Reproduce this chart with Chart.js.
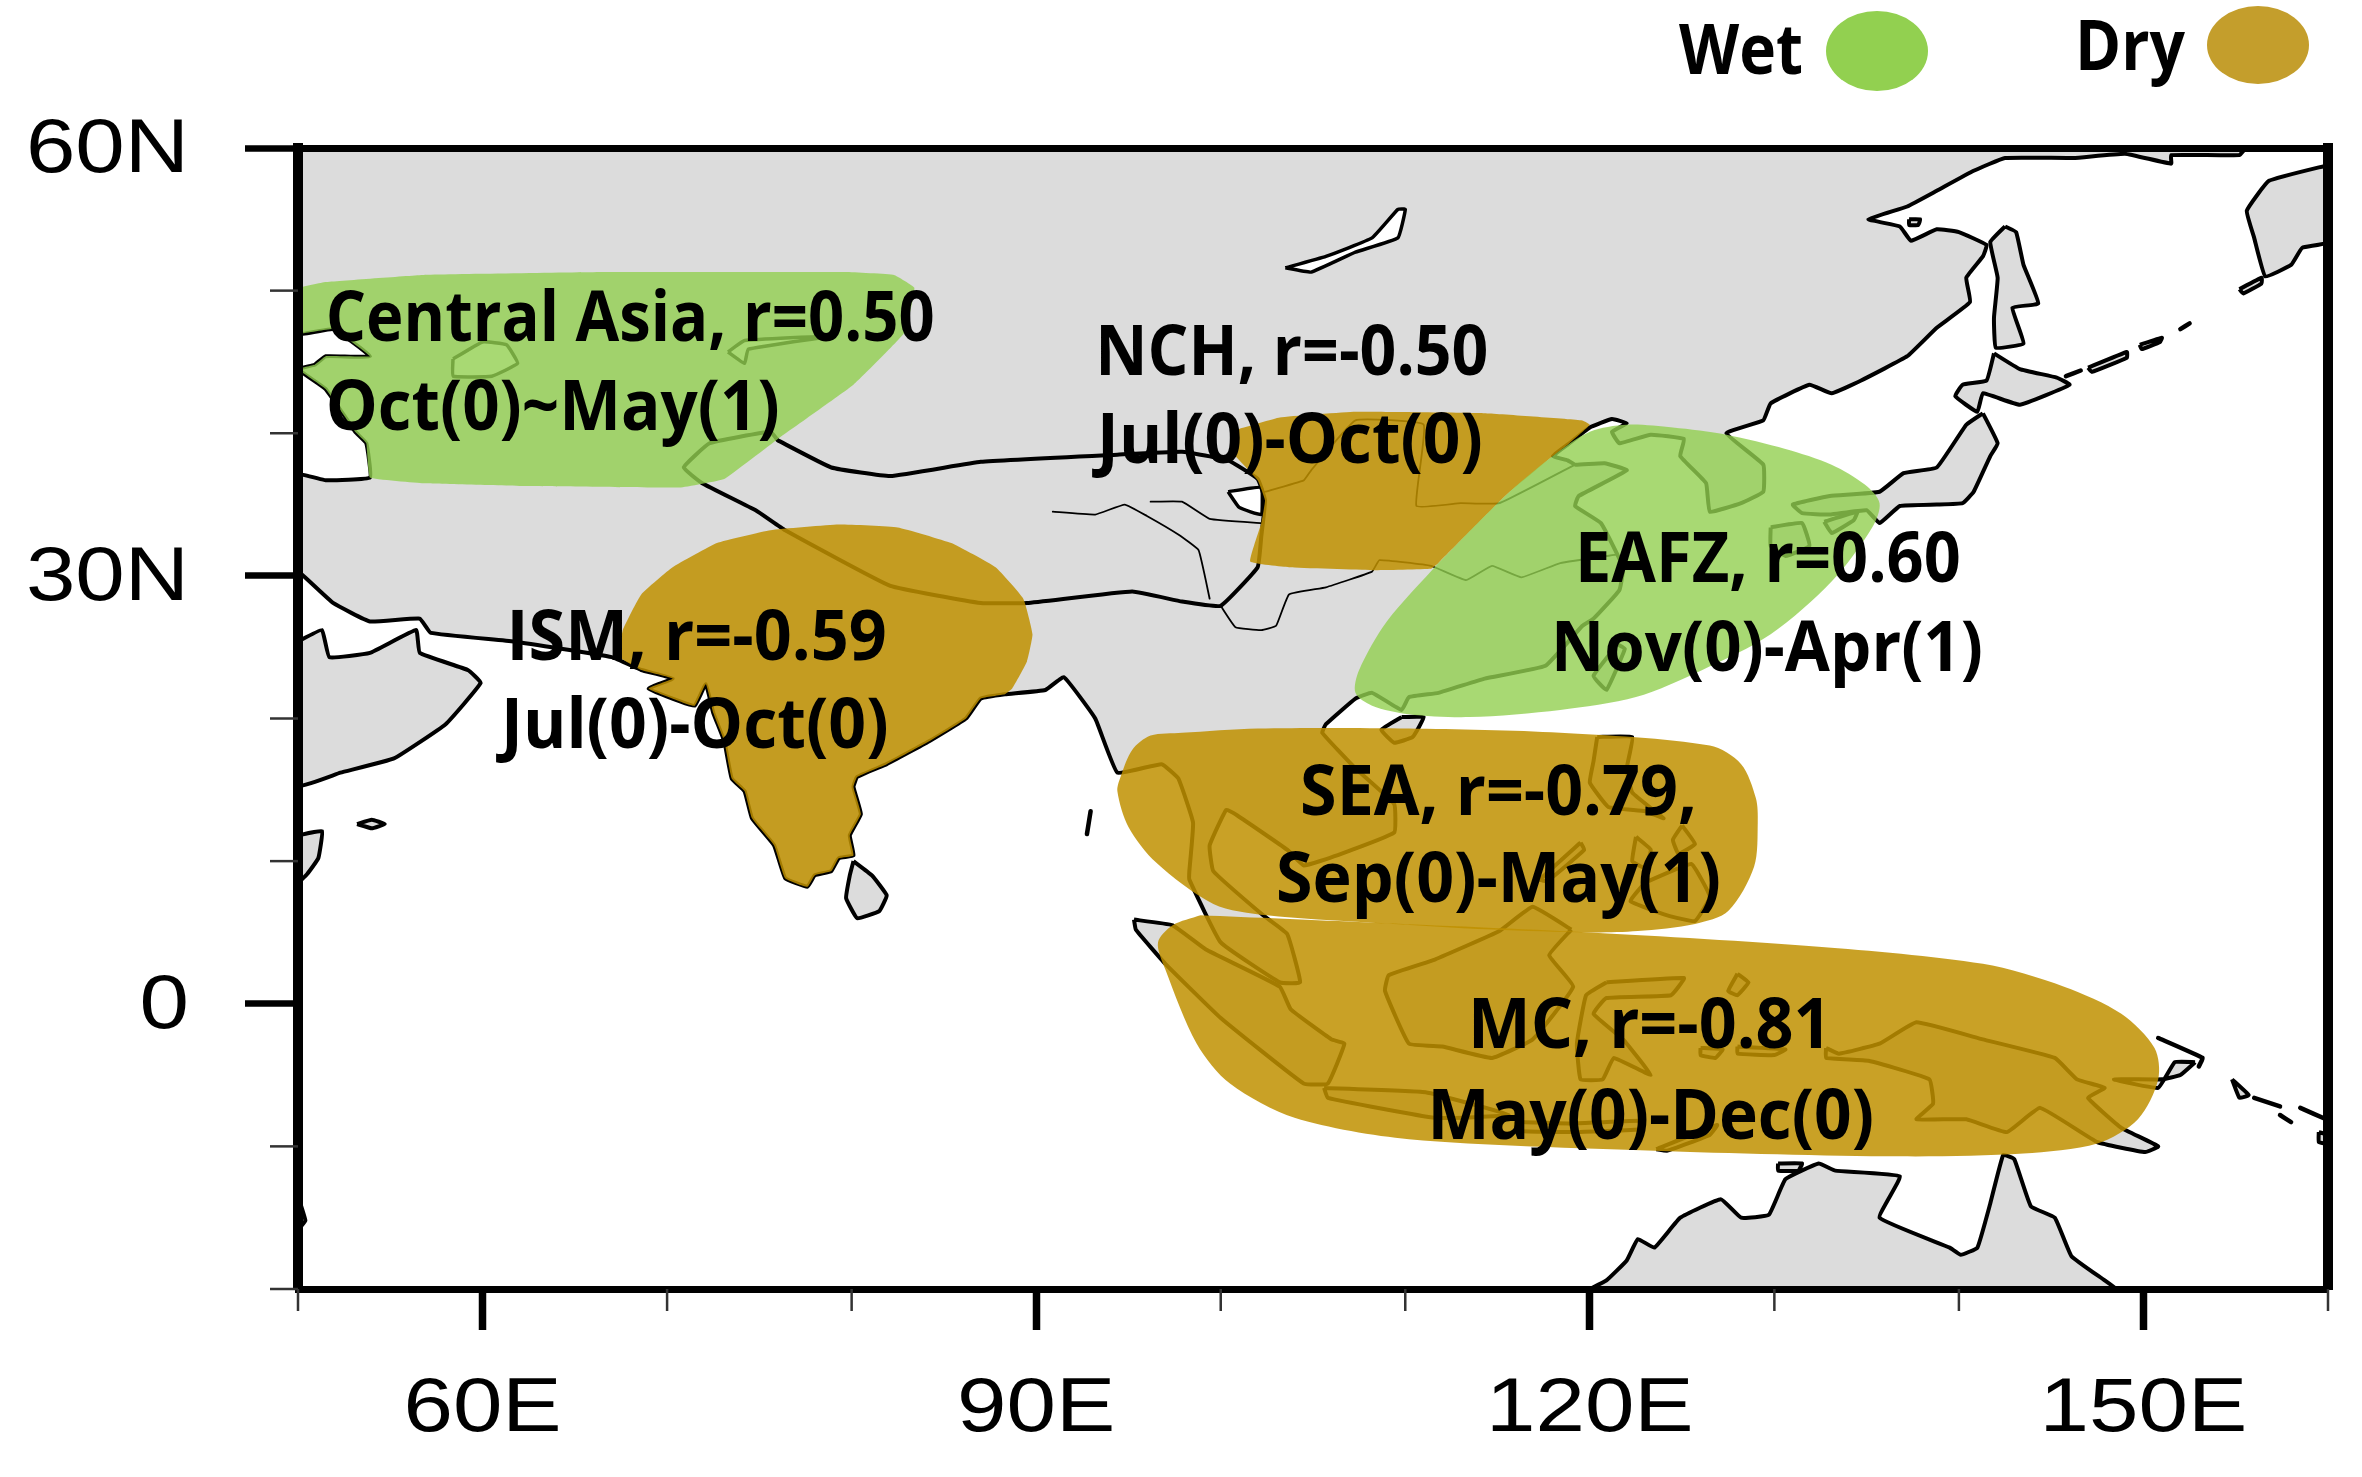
<!DOCTYPE html>
<html><head><meta charset="utf-8">
<style>html,body{margin:0;padding:0;background:#fff}canvas{display:block}</style>
<script src="https://cdn.jsdelivr.net/npm/chart.js@4/dist/chart.umd.js"></script>
</head><body><canvas id="c" width="2362" height="1477"></canvas>
<script>
// ---------- axis ticks ----------
const lonMajor=[60,90,120,150];
const lonMajorLabels=['60E','90E','120E','150E'];
const latMajor=[60,30,0];
const latMajorLabels=['60N','30N','0'];
const lonMinor=[50,70,80,100,110,130,140,160];
const latMinor=[50,40,20,10,-10,-20];

// ---------- land outlines, [lon,lat] ----------
const eurasia=[[50,60],[155.5,60],[155.2,59.5],[151.5,59.5],[151.5,58.9],[149,59.6],[146.2,59.3],[142.5,59.3],[140.8,58.4],[138.8,57],[137.2,55.9],[135.1,55],[136.8,54.5],[137.4,53.5],[138.8,54.3],[140,54.1],[141.5,53.2],[141.3,52.4],[140.4,50.9],[140.6,49.2],[138.8,47.4],[137.2,45.4],[134.7,43.7],[133.1,42.8],[131.9,43.4],[129.8,42.1],[129.4,40.9],[127.4,40],[129.4,37.8],[129.4,35.9],[128.2,35.1],[126.5,34.5],[126.3,36.5],[124.9,38.4],[125.1,39.6],[123.3,39.9],[121.6,39.3],[121.2,40.1],[122,40.7],[121.2,41],[120,40.4],[118.8,39.2],[118,38.4],[118.8,38.1],[119.2,37.8],[120.8,37.9],[122,37.4],[119.4,35.6],[119.2,34.9],[120.6,33.7],[121.8,30.6],[121.6,29],[120.2,27],[119.6,26.5],[117.6,23.7],[114.3,22.8],[111.8,21.8],[110.2,21.5],[109.8,20.6],[108.2,21.8],[107.3,21.4],[105.7,19.6],[105.5,19],[107.3,16.5],[109.4,14],[109.4,12],[106.3,10.4],[104.5,9.7],[103.6,10.8],[100.9,13.2],[100.3,13.6],[99.4,11.1],[99.6,9.3],[102.3,6.2],[103.6,4.9],[104.3,1.5],[103.2,1.5],[100,4.3],[98.3,8.7],[98.3,9.3],[98.5,12.7],[97.7,15.8],[96.8,16.8],[94.4,16.2],[93.2,20],[91.5,22.9],[90.5,22],[88.3,21.7],[87,21.4],[86.2,20],[84.2,18.4],[81.9,16.8],[80.3,15.9],[80.1,15.2],[80.5,13.3],[79.9,11.8],[80.1,10.4],[79.3,10.2],[78.9,9.3],[78,9],[77.6,8.2],[76.4,8.8],[75.8,11.1],[74.6,13],[74.2,14.9],[73.5,15.8],[73.1,18.4],[72.5,20.4],[72.1,22.4],[71.5,20.9],[70.7,21.2],[69,22.1],[70.3,22.8],[68.6,23.4],[67,24.3],[61.7,25.4],[57.2,26],[56.6,27],[53.9,26.8],[51.9,28.1],[50.2,30.1],[50,30],[50,37.1],[51.5,36.7],[53.9,36.9],[53.7,39.3],[53.1,40.1],[51.5,43.1],[50,44.5],[50.9,44.8],[51.5,45.4],[53.9,45.4],[51.9,47.3],[50,47]];
const kamchatka=[[160,58.8],[156.8,57.7],[155.6,55.6],[156,53.7],[156.6,51],[158,51.8],[158.6,53],[160,53.4]];
const arabia=[[50,25.4],[51.3,26.2],[51.7,24.3],[53.9,24.6],[56.4,26.2],[56.6,24.6],[59.2,23.4],[59.9,22.5],[58,19.6],[55.2,17.2],[52.3,16.2],[50,15.3]];
const somalia=[[50,11.8],[51.3,12.1],[51.1,10.2],[50.5,9.1],[50,8.5]];
const madagascar=[[50,-13.5],[50.4,-15.2],[50,-15.8]];
const socotra=[[53.2,12.6],[54,12.9],[54.7,12.6],[54,12.3]];
const sriLanka=[[80.1,10],[81.1,9],[81.9,7.6],[81.5,6.5],[80.3,6],[79.7,7.4],[79.9,9]];
const andaman=[[92.95,13.5],[92.75,11.9]];
const sumatra=[[95.3,5.9],[97.4,5.5],[99.2,3.8],[103.2,1.2],[103.8,-0.4],[106,-2.5],[106.7,-2.8],[105.8,-5.6],[104.5,-5.6],[100,-1],[97,2.8],[95.4,5.2]];
const borneo=[[119,5.2],[116.9,6.8],[115.1,5.1],[111.6,3.1],[109.1,2],[108.9,0.9],[110.2,-2.8],[112,-3],[114.7,-3.8],[116.9,-2.5],[119.1,1.2],[117.8,3.4]];
const java=[[105.6,-5.9],[111.1,-6.2],[115.6,-7.8],[111.6,-8],[105.8,-6.6]];
const flores=[[116,-8.3],[119,-8.4],[122.8,-8.2],[122.8,-8.8],[119,-9],[116,-8.9]];
const timor=[[123.6,-10.2],[126.9,-8.5],[126.5,-9.2],[124.2,-10.3]];
const sulawesi=[[120.9,1.5],[125.1,1.8],[124.4,0.6],[120.9,0.4],[120.2,-0.7],[121.8,-2.5],[123.3,-5],[121.3,-3.8],[120.7,-5.3],[119.5,-5.3],[119.3,-2.8],[119.8,0.6]];
const halmahera=[[128,2.1],[128.6,1.5],[128,0.6],[127.5,0.9]];
const seram=[[128,-3],[130.6,-3.2],[130,-3.6],[128,-3.5]];
const buru=[[126,-3.1],[127.2,-3.2],[126.8,-3.8],[126,-3.6]];
const newGuinea=[[132.8,-3.1],[133.5,-3.5],[135.7,-2.8],[137.7,-1.3],[141.3,-2.5],[145.2,-3.8],[146.4,-5.3],[147.9,-5.9],[147,-6.6],[148.8,-8.7],[150.8,-10],[150.1,-10.4],[147.5,-9.7],[144.4,-7.3],[142.6,-9],[140.4,-8.1],[137.7,-8.1],[138.6,-7],[138.4,-5.3],[135.1,-4],[132.8,-3.8]];
const newBritain=[[152.8,-4.1],[151.7,-4.1],[150.8,-5.9],[148.4,-5.3],[151,-5.3],[152,-5]];
const newIreland=[[150.8,-2.4],[153.2,-3.8],[153,-4.4]];
const solomonA=[[154.8,-5.3],[155.7,-6.4],[155.2,-6.6]];
const solomonB=[[156,-6.6],[157.4,-7.2]];
const solomonC=[[157.4,-7.8],[158,-8.3]];
const solomonD=[[158.5,-7.3],[159.9,-8.1]];
const solomonE=[[159.5,-9],[160,-9.2],[160,-9.8],[159.5,-9.7]];
const australia=[[120,-20],[120.9,-19.4],[122,-18],[122.6,-16.5],[123.5,-17.1],[124.9,-15],[127.1,-13.7],[128.2,-15],[129.7,-14.8],[130.6,-12.3],[132.4,-11.2],[133.3,-11.7],[136.8,-12.1],[135.7,-15],[139.5,-17.1],[140.1,-17.6],[141,-17.1],[141.7,-14],[142.4,-10.6],[143,-10.9],[143.9,-14.2],[145.2,-15],[146.1,-17.7],[147.9,-19.4],[148.5,-20]];
const melville=[[130.2,-11.2],[131.5,-11.2],[131.3,-11.7],[130.2,-11.7]];
const hainan=[[109.8,20.1],[111,20.1],[110.4,18.7],[109.4,18.3],[108.7,19.2]];
const taiwan=[[121.5,25.2],[121.9,24.9],[120.9,22],[120.2,23]];
const luzon=[[120.4,18.7],[122.3,18.7],[122,16.5],[122.3,14.8],[124,13],[123,13.5],[121,13.8],[120,15.5],[120.2,17]];
const samar=[[125,12.5],[125.7,11.2],[124.8,10.5],[124.5,11.5]];
const negros=[[122.5,11.7],[123.3,10.8],[123,9.5],[122.3,10]];
const mindanao=[[123,8.5],[125.5,9.8],[126.5,7.5],[125.7,5.8],[124.2,6.2],[122.2,7.2]];
const palawan=[[119.5,11.3],[117.3,8.7],[117.7,8.6],[119.7,10.8]];
const honshu=[[141.3,41.4],[142.1,39.3],[141.7,38.4],[140.8,35.9],[140.2,35.1],[138.8,35],[136.8,34.9],[135.7,33.7],[135,34.6],[133,34.3],[131.5,34.4],[131,35],[133,35.6],[135.7,35.9],[137,37.2],[138.8,37.6],[140.4,40.6]];
const kyushu=[[129.8,33.4],[131.5,33.7],[131.9,32.1],[130.6,31.4],[129.8,32.1]];
const shikoku=[[132.7,33.8],[134.5,34.5],[134.3,33.9],[133.1,33]];
const hokkaido=[[141.9,45.6],[143.3,44.5],[145.3,43.9],[146,43.4],[143.3,42],[141.3,42.8],[141,41.5],[139.8,42.6],[140.2,43.4],[141.5,43.7]];
const sakhalin=[[142.5,54.5],[143.1,54.1],[143.5,51.8],[144.3,49.1],[142.9,48.8],[143.5,46.3],[142,46],[141.9,48.1],[142.1,50.9],[141.7,53.4]];
const shantar=[[137.3,55],[137.9,55],[137.8,54.6],[137.3,54.6]];
const kurilA=[[147,44.6],[149.1,45.7],[149.1,45.3],[147.2,44.3]];
const kurilB=[[149.8,46.2],[151,46.7],[150.9,46.4],[149.9,45.9]];
const kurilC=[[152,47.3],[152.5,47.7]];
const kurilD=[[145.8,44],[146.6,44.4]];
const paramushir=[[155.2,50.1],[156.4,50.9],[156.4,50.5],[155.4,49.8]];

// ---------- lakes ----------
const baikal=[[103.5,51.6],[105.7,52.4],[108.2,53.7],[109.6,55.7],[110,55.7],[109.6,53.7],[107.3,52.7],[104.9,51.3]];
const aral=[[58.4,45.2],[60,46.4],[61.3,46.2],[61.9,44.9],[60.5,44],[58.4,44]];
const balkhash=[[73.3,45.7],[74.2,46.5],[78.8,46.8],[74.4,45.9],[74.2,44.9]];
const qinghai=[[100.4,35.9],[102.2,36.2],[102.2,34.3],[101,34.8]];

// ---------- plateau outline and rivers ----------
const plateau=[[76,39.5],[78.9,37.6],[82.1,37],[87,38],[94.4,38.5],[97.9,38.7],[100.4,38.1],[102,36.8],[102.4,35.3],[102.2,32.8],[102,30.6],[100,27.9],[97.9,28.2],[95.2,28.9],[89.5,28.1],[87,28.1],[82.1,29.3],[76.4,33.2],[74.8,34.6],[71.9,36.5],[70.9,37.6],[72.3,39.3],[75.6,40.1]];
const riverA=[[90.9,34.5],[93.2,34.3],[94.8,35],[96,34.2],[97.7,32.9],[98.8,31.8],[99.4,28.4]];
const riverB=[[96.2,35.2],[97.9,35.2],[99.4,34],[102.2,33.7]];
const yangtze=[[100,27.9],[100.8,26.4],[102.2,26.2],[103,26.5],[103.7,28.7],[105.7,29.2],[108.2,30.3],[108.6,31.1],[111.4,30.7],[113.3,29.7],[114.7,30.7],[116.3,29.9],[118.4,30.9],[121.5,31.5]];
const yellowRiver=[[102.4,35.9],[104.5,36.7],[104.9,37.4],[107.3,40.9],[111,40.6],[110.6,34.9],[113,35.1],[115.1,35.1],[119.2,37.8]];

// ---------- regions ----------
const centralAsia=[[50,50.2],[51.5,50.6],[56.8,51.1],[66.6,51.3],[79.7,51.3],[82.3,51.1],[83.4,50.2],[82.9,47.1],[80.1,43.4],[76,39.6],[73.1,36.8],[70.7,36.2],[62.5,36.3],[56.8,36.5],[53.9,36.9],[53.7,39.3],[53.1,40.1],[51.5,43.1],[50,44.5],[50.9,44.8],[51.5,45.4],[53.9,45.4],[51.9,47.3],[50,47]];
const ism=[[67.4,24.3],[67.6,26.2],[68.6,28.7],[70.3,30.6],[72.7,32.3],[75.6,33.2],[79.3,33.6],[82.5,33.4],[85.4,32.3],[87.8,30.6],[89.3,28.4],[89.8,25.9],[89.5,24],[88.7,22.1],[88.3,21.7],[87,21.4],[86.2,20],[84.2,18.4],[81.9,16.8],[80.3,15.9],[80.1,15.2],[80.5,13.3],[79.9,11.8],[80.1,10.4],[79.3,10.2],[78.9,9.3],[78,9],[77.6,8.2],[76.4,8.8],[75.8,11.1],[74.6,13],[74.2,14.9],[73.5,15.8],[73.1,18.4],[72.5,20.4],[72.1,22.4],[71.5,20.9],[70.7,21.2],[69,22.1],[70.3,22.8],[68.6,23.4]];
const nch=[[101,40.3],[103.2,41.1],[107.3,41.5],[114.3,41.4],[119.6,40.9],[120,40.6],[118.8,39.2],[118,38.4],[115.5,35.7],[111.8,30.9],[111.4,30.5],[108.2,30.4],[103.7,30.6],[101.6,31],[102.2,33.7],[102.4,35.3],[102,36.7],[100.8,38.4],[100.5,39.3]];
const eafz=[[111.8,30.9],[115.5,35.7],[118,38.4],[120,40.1],[122,40.6],[124.5,40.4],[127.4,39.9],[130.6,38.9],[133.1,37.8],[134.9,36.4],[135.7,35.1],[135.3,33.4],[133.1,29.6],[129.8,25.9],[126.1,23.4],[122.5,21.5],[118.4,20.6],[113.5,20.1],[110.2,20.3],[108.2,20.9],[107.3,21.8],[107.5,23.4],[109,26.8]];
const sea=[[97.9,19],[102,19.3],[110.2,19.3],[118.4,19],[126.5,18.1],[128.2,16.8],[129,14.4],[129.1,12.7],[128.9,9.6],[127.5,6.5],[125.7,5.6],[122.6,5.1],[120,5],[114.7,5.2],[108,5.7],[102.5,6.2],[99.6,7],[96.5,9.9],[95,12.4],[94.4,14.9],[94.6,16],[95.2,17.8],[96.2,18.8]];
const mc=[[98.9,6.2],[108,5.7],[120,5],[132.4,4],[141.3,2.8],[145.7,1.2],[148.8,-0.7],[150.6,-3.1],[150.8,-5.3],[149.7,-8.1],[147.5,-9.8],[143.5,-10.5],[136.8,-10.7],[123.5,-10.3],[110.2,-9.5],[104,-8],[100.5,-5.6],[98.7,-2.8],[97,2.4],[96.6,4.3],[97.4,5.5]];

// ---------- annotation text ----------
const noteTexts=['Central Asia, r=0.50','Oct(0)~May(1)','NCH, r=-0.50','Jul(0)-Oct(0)','ISM, r=-0.59','Jul(0)-Oct(0)','EAFZ, r=0.60','Nov(0)-Apr(1)','SEA, r=-0.79,','Sep(0)-May(1)','MC, r=-0.81','May(0)-Dec(0)'];
const noteLonStart=[51.5,51.5,93.2,93.3,61.3,61,119.2,117.9,104.3,103,113.4,111.2];
const noteLonEnd=[84.5,76.1,114.5,114.2,81.9,82,140.1,141.3,125.8,127.1,133.1,135.4];
const noteLat=[46.5,40.2,44.1,37.9,24.1,17.9,29.6,23.3,13.2,7.1,-3.1,-9.5];
const legendNames=['Wet','Dry'];

const GRAY='#dcdcdc',GREEN='rgba(146,208,80,0.8)',BROWN='rgba(191,144,0,0.85)';
const xy=a=>a.map(p=>({x:p[0],y:p[1]}));
const closed=a=>xy(a.concat([a[0]]));
const poly=(a,fillC,lw)=>({data:closed(a),showLine:true,fill:'shape',backgroundColor:fillC,borderColor:'#000',borderWidth:lw,pointRadius:0,tension:0.1,borderJoinStyle:'round'});
const line=(a,lw)=>({data:xy(a),showLine:true,fill:false,borderColor:'#000',borderWidth:lw,pointRadius:0,tension:0.1,borderCapStyle:'round',borderJoinStyle:'round'});
const blob=(a,fillC,t)=>({data:closed(a),showLine:true,fill:'shape',backgroundColor:fillC,borderColor:'rgba(0,0,0,0)',borderWidth:0,pointRadius:0,tension:t});

const layers=[
 ...[eurasia,kamchatka,arabia,somalia,madagascar,socotra,sriLanka,sumatra,borneo,java,flores,timor,sulawesi,halmahera,seram,buru,newGuinea,newBritain,solomonA,solomonE,australia,melville,hainan,taiwan,luzon,samar,negros,mindanao,palawan,honshu,kyushu,shikoku,hokkaido,sakhalin,shantar,kurilA,kurilB,paramushir].map(a=>poly(a,GRAY,4)),
 ...[baikal,aral,balkhash,qinghai].map(a=>poly(a,'#fff',3.5)),
 ...[andaman,newIreland,solomonB,solomonC,solomonD,kurilC,kurilD].map(a=>line(a,4.5)),
 line(plateau.concat([plateau[0]]),4),
 ...[riverA,riverB,yangtze,yellowRiver].map(a=>line(a,1.8)),
 blob(centralAsia,GREEN,0.08),
 blob(ism,BROWN,0.12),
 blob(nch,BROWN,0.1),
 blob(eafz,GREEN,0.3),
 blob(sea,BROWN,0.3),
 blob(mc,BROWN,0.3)
];
const datasets=layers.slice().reverse();

const overlay={id:'overlay',afterDraw(chart){
 const ctx=chart.ctx,X=chart.scales.x,Y=chart.scales.y;
 // minor ticks
 ctx.save();ctx.strokeStyle='#333';ctx.lineWidth=2.5;
 lonMinor.forEach(v=>{const p=X.getPixelForValue(v);ctx.beginPath();ctx.moveTo(p,Y.bottom);ctx.lineTo(p,Y.bottom+22);ctx.stroke();});
 latMinor.forEach(v=>{const p=Y.getPixelForValue(v);ctx.beginPath();ctx.moveTo(X.left-28,p);ctx.lineTo(X.left,p);ctx.stroke();});
 // notes
 ctx.fillStyle='#000';ctx.textAlign='left';ctx.textBaseline='alphabetic';
 ctx.font='bold 69px "Open Sans"';
 noteTexts.forEach((t,i)=>{const a=X.getPixelForValue(noteLonStart[i]),b=X.getPixelForValue(noteLonEnd[i]);
  ctx.fillText(t,a,Y.getPixelForValue(noteLat[i]),b-a);});
 // legend
 ctx.fillText(legendNames[0],1679,74,124);
 ctx.fillText(legendNames[1],2075,70,110);
 ctx.fillStyle='#92d050';ctx.beginPath();ctx.ellipse(1877,51,51,40,0,0,7);ctx.fill();
 ctx.fillStyle='#c49e2c';ctx.beginPath();ctx.ellipse(2258,45,51,39,0,0,7);ctx.fill();
 ctx.restore();
}};

// the reference's axis lettering is drawn wider than normal: keep the library's label items, widen each about its anchor
const LABEL_STRETCH=1.17;
function widenLabels(s){
 s.drawLabels=function(){
  const ctx=s.ctx;
  s.getLabelItems().forEach(it=>{
   const o=it.options;
   ctx.save();
   ctx.translate(o.translation[0],o.translation[1]+(s.axis==='y'?3:0));
   ctx.scale(LABEL_STRETCH,1);
   ctx.font=it.font.string;ctx.fillStyle=o.color;ctx.textAlign=o.textAlign;ctx.textBaseline=o.textBaseline;
   ctx.fillText(it.label,0,it.textOffset);
   ctx.restore();
  });
 };
}

const tickFont={family:'"Liberation Sans"',size:76};
new Chart(document.getElementById('c'),{
 type:'scatter',
 data:{datasets},
 plugins:[overlay],
 options:{
  responsive:false,animation:false,devicePixelRatio:1,
  layout:{padding:0},
  plugins:{legend:{display:false},tooltip:{enabled:false},filler:{propagate:false}},
  events:[],
  scales:{
   x:{type:'linear',position:'bottom',min:50,max:160,
    afterFit(s){s.height=188;},
    afterUpdate:widenLabels,
    afterBuildTicks(s){s.ticks=lonMajor.map(v=>({value:v}));},
    grid:{drawOnChartArea:false,tickLength:41,tickWidth:7.5,tickColor:'#000'},
    border:{display:true,width:7,color:'#000',z:2},
    ticks:{autoSkip:false,maxRotation:0,padding:34,color:'#000',font:tickFont,callback:v=>lonMajorLabels[lonMajor.indexOf(v)]}},
   y:{type:'linear',position:'left',min:-20,max:60,
    afterFit(s){s.width=298;},
    afterUpdate:widenLabels,
    afterBuildTicks(s){s.ticks=latMajor.map(v=>({value:v}));},
    grid:{drawOnChartArea:false,tickLength:53,tickWidth:6.5,tickColor:'#000'},
    border:{display:true,width:10,color:'#000',z:2},
    ticks:{autoSkip:false,padding:56,color:'#000',font:tickFont,callback:v=>latMajorLabels[latMajor.indexOf(v)]}},
   xTop:{type:'linear',position:'top',min:50,max:160,
    afterFit(s){s.height=148;},
    grid:{drawOnChartArea:false,drawTicks:false},
    border:{display:true,width:7,color:'#000',z:2},
    ticks:{display:false}},
   yRight:{type:'linear',position:'right',min:-20,max:60,
    afterFit(s){s.width=34;},
    grid:{drawOnChartArea:false,drawTicks:false},
    border:{display:true,width:10,color:'#000',z:2},
    ticks:{display:false}}
  }
 }
});
</script></body></html>
